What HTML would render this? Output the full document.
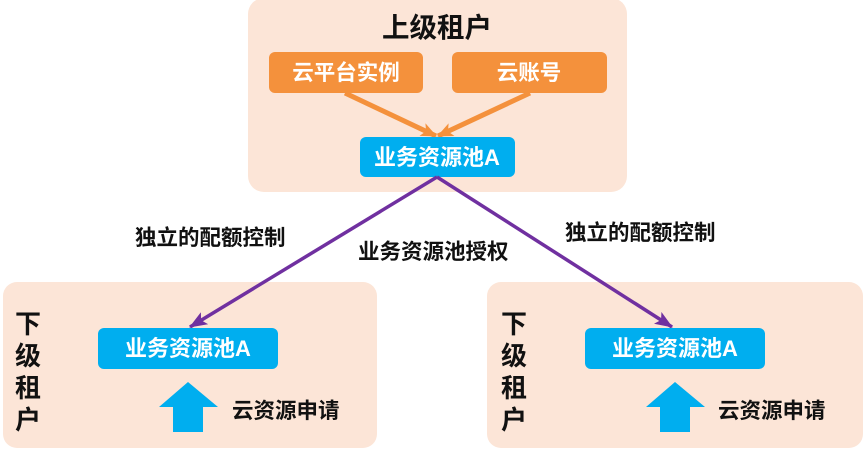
<!DOCTYPE html>
<html><head><meta charset="utf-8"><style>
html,body{margin:0;padding:0;background:#fff;}
body{width:864px;height:450px;overflow:hidden;}
svg text{font-family:"Liberation Sans","Noto Sans CJK SC",sans-serif;font-weight:bold;}
</style></head><body>
<svg width="864" height="450" viewBox="0 0 864 450" xmlns="http://www.w3.org/2000/svg">
<defs>
<marker id="ao" markerWidth="16" markerHeight="14" refX="15" refY="7" orient="auto" markerUnits="userSpaceOnUse" viewBox="0 0 16 14">
<path d="M0,0 L16,7 L0,14 L4,7 Z" fill="#F4913C"/>
</marker>
<marker id="ap" markerWidth="18" markerHeight="14" refX="17" refY="7" orient="auto" markerUnits="userSpaceOnUse" viewBox="0 0 18 14">
<path d="M0,0 L18,7 L0,14 L4,7 Z" fill="#7030A0"/>
</marker>
</defs>
<!-- panels -->
<rect x="248" y="-2" width="379" height="194" rx="16" fill="#FCE5D7"/>
<rect x="3" y="282" width="374" height="166" rx="14" fill="#FCE5D7"/>
<rect x="487" y="282" width="376" height="166" rx="14" fill="#FCE5D7"/>

<text x="437" y="37" font-size="27.5" text-anchor="middle" fill="#111">上级租户</text>

<rect x="269" y="52" width="154" height="41" rx="6" fill="#F4913C"/>
<text x="346" y="80" font-size="21.5" text-anchor="middle" fill="#fff">云平台实例</text>
<rect x="452" y="52" width="155" height="41" rx="6" fill="#F4913C"/>
<text x="529" y="80" font-size="21.5" text-anchor="middle" fill="#fff">云账号</text>

<line x1="345" y1="93" x2="436" y2="136" stroke="#F4913C" stroke-width="5" marker-end="url(#ao)"/>
<line x1="530" y1="93" x2="438" y2="136" stroke="#F4913C" stroke-width="5" marker-end="url(#ao)"/>

<rect x="360" y="137" width="155" height="40" rx="6" fill="#00AEEF"/>
<text x="437" y="165" font-size="22" text-anchor="middle" fill="#fff">业务资源池A</text>

<!-- purple connectors -->
<line x1="437" y1="177" x2="190" y2="327" stroke="#7030A0" stroke-width="3.5" marker-end="url(#ap)"/>
<line x1="437" y1="177" x2="672" y2="327" stroke="#7030A0" stroke-width="3.5" marker-end="url(#ap)"/>

<text x="135" y="245" font-size="21.5" fill="#111">独立的配额控制</text>
<text x="358" y="259" font-size="21.5" fill="#111">业务资源池授权</text>
<text x="565" y="240" font-size="21.5" fill="#111">独立的配额控制</text>

<!-- bottom left -->
<text font-size="26" fill="#111" text-anchor="middle"><tspan x="28" y="333">下</tspan><tspan x="28" y="365">级</tspan><tspan x="28" y="397">租</tspan><tspan x="28" y="429">户</tspan></text>
<rect x="98" y="328" width="180" height="41" rx="6" fill="#00AEEF"/>
<text x="188" y="356" font-size="22" text-anchor="middle" fill="#fff">业务资源池A</text>
<path d="M188,382 L218,407 L203,407 L203,432 L173,432 L173,407 L159,407 Z" fill="#00AEEF"/>
<text x="232" y="418" font-size="21.5" fill="#111">云资源申请</text>

<!-- bottom right -->
<text font-size="26" fill="#111" text-anchor="middle"><tspan x="514" y="333">下</tspan><tspan x="514" y="365">级</tspan><tspan x="514" y="397">租</tspan><tspan x="514" y="429">户</tspan></text>
<rect x="585" y="328" width="180" height="41" rx="6" fill="#00AEEF"/>
<text x="675" y="356" font-size="22" text-anchor="middle" fill="#fff">业务资源池A</text>
<path d="M675,382 L705,407 L690,407 L690,432 L660,432 L660,407 L646,407 Z" fill="#00AEEF"/>
<text x="718" y="418" font-size="21.5" fill="#111">云资源申请</text>
</svg>
</body></html>
